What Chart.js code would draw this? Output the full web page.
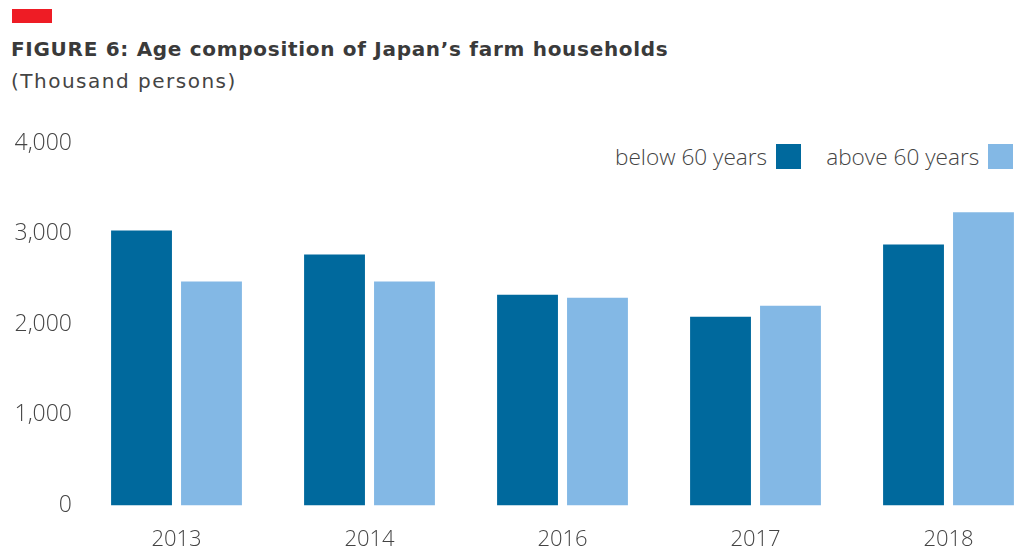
<!DOCTYPE html>
<html>
<head>
<meta charset="utf-8">
<script src="https://cdn.jsdelivr.net/npm/chart.js@4.4.1/dist/chart.umd.min.js"></script>
<style>
    html, body { margin: 0; padding: 0; background: #fff; overflow: hidden; width: 1017px; height: 547px; }
    .redbar { position: absolute; left: 12px; top: 9px; width: 40px; height: 14px; background: #ee1c25; }
    .title { position: absolute; left: 11px; top: 37px; font-family: "DejaVu Sans", sans-serif; font-weight: 700; font-size: 20px; letter-spacing: 0.7px; color: #3a3a3a; white-space: nowrap; }
    .subtitle { position: absolute; left: 11px; top: 69px; font-family: "DejaVu Sans", sans-serif; font-size: 20px; color: #444; white-space: nowrap; letter-spacing: 1.5px; }
    .legend { position: absolute; top: 141px; left: 615px; font-family: "Open Sans", sans-serif; font-weight: 300; font-size: 22.6px; color: #444; white-space: nowrap; display: flex; align-items: center; }
    .legend .box { display: inline-block; width: 25px; height: 25px; margin-left: 9px; }
    .legend .item { display: flex; align-items: center; margin-right: 25px; }
    #wrap { position: absolute; left: 0; top: 110px; width: 1045px; height: 464px; }
</style>
</head>
<body>
<div class="redbar"></div>
<div class="title">FIGURE 6: Age composition of Japan’s farm households</div>
<div class="subtitle">(Thousand persons)</div>
<div class="legend" id="legend"></div>
<div id="wrap"><canvas id="chart"></canvas></div>
<script>
// Chart data
const years = ['2013', '2014', '2016', '2017', '2018'];
const below60 = [3036, 2770, 2327, 2083, 2881];
const above60 = [2471, 2471, 2294, 2205, 3235];
const seriesNames = ['below 60 years', 'above 60 years'];
const seriesColors = ['#00699d', '#83b8e5'];
const yTicks = [0, 1000, 2000, 3000, 4000];

// Build the legend with the colour box after the text
document.addEventListener('DOMContentLoaded', function() {
    const legend = document.getElementById('legend');
    seriesNames.forEach((name, i) => {
        const item = document.createElement('span');
        item.className = 'item';
        item.innerHTML = name + '<span class="box" style="background:' + seriesColors[i] + '"></span>';
        legend.appendChild(item);
    });
});

new Chart(document.getElementById('chart'), {
    type: 'bar',
    data: {
        labels: years,
        datasets: [
            { label: seriesNames[0], data: below60, backgroundColor: seriesColors[0] },
            { label: seriesNames[1], data: above60, backgroundColor: seriesColors[1] }
        ]
    },
    options: {
        responsive: true,
        maintainAspectRatio: false,
        animation: false,
        layout: { padding: { top: 33, right: 0, bottom: 0, left: 0 } },
        datasets: { bar: { categoryPercentage: 0.725, barPercentage: 0.87 } },
        plugins: { legend: { display: false }, tooltip: { enabled: false } },
        scales: {
            x: {
                grid: { display: false, drawTicks: false },
                border: { display: false },
                ticks: { font: { family: '"Open Sans", sans-serif', size: 22, weight: '300' }, color: '#444', padding: 21 }
            },
            y: {
                min: 0,
                max: 4000,
                grid: { display: false, drawTicks: false },
                border: { display: false },
                afterFit: function(scale) { scale.width = 80; },
                afterBuildTicks: function(scale) { scale.ticks = yTicks.map(v => ({ value: v })); },
                ticks: {
                    font: { family: '"Open Sans", sans-serif', size: 23, weight: '300' },
                    color: '#444',
                    padding: 8,
                    callback: v => v.toLocaleString('en-US')
                }
            }
        }
    }
});
</script>
</body>
</html>
